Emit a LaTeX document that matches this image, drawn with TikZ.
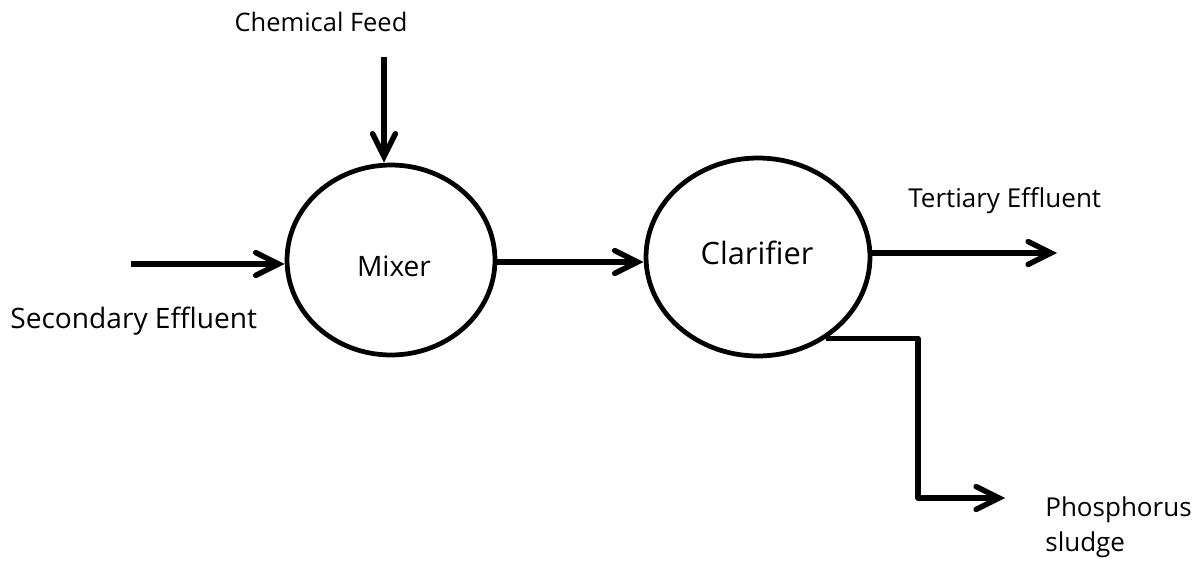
\documentclass[tikz,border=0pt]{standalone}
\usepackage{fontspec}
\setmainfont{Open Sans}
\usetikzlibrary{arrows.meta,shapes.geometric}

\begin{document}
\begin{tikzpicture}[
  x=0.02cm, y=-0.02cm,
  unit/.style={ellipse, draw, line width=2.7pt, inner sep=0pt},
  flow/.style={line width=3.1pt, line join=round,
    -{Straight Barb[length=13pt, width=13pt, line cap=round]}},
  lbl/.style={font=\fontsize{16}{19}\selectfont, inner sep=0pt}
]
  \useasboundingbox (0,0) rectangle (1197,561);

  % process units
  \node[unit, minimum width=4.16cm, minimum height=3.8cm] (mix) at (391,260) {};
  \node[unit, minimum width=4.48cm, minimum height=3.96cm] (clar) at (758,257) {};
  \node[lbl] at (394,266) {Mixer};
  \node[lbl, font=\fontsize{17.5}{20}\selectfont] at (757,253) {Clarifier};

  % stream ends
  \coordinate (inlet) at (131,264);
  \coordinate (feed) at (384,57);
  \coordinate (outlet) at (1057,253);
  \coordinate (bend) at (918,498);
  \coordinate (sludge) at (1005,498);

  % labels
  \node[lbl, anchor=west] (sec) at (10,321) {Secondary Effluent};
  \node[lbl, font=\fontsize{14.5}{17}\selectfont] (chem) at (321,22) {Chemical Feed};
  \node[lbl, anchor=west, font=\fontsize{14.8}{20}\selectfont] (ter) at (908,201) {Tertiary Effluent};
  \node[lbl, anchor=west, align=left, font=\fontsize{14.8}{20}\selectfont] (phos) at (1045,527) {Phosphorus\\sludge};

  % streams
  \draw[flow] (inlet) -- (mix.west |- inlet);
  \draw[flow] (feed) -- (feed |- mix.north);
  \draw[flow] (mix.east |- 0,262) -- (clar.west |- 0,262);
  \draw[flow] (clar.east |- outlet) -- (outlet);
  \draw[flow] (clar.-50) -| (bend) -- (sludge);
\end{tikzpicture}
\end{document}
